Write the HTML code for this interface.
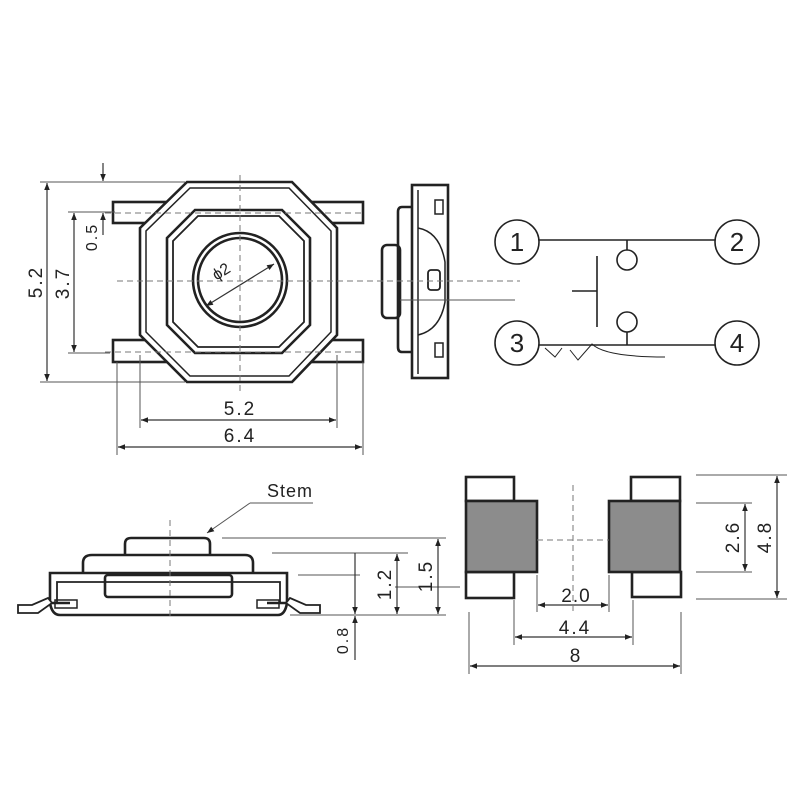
<!DOCTYPE html>
<html><head><meta charset="utf-8"><style>html,body{margin:0;background:#fff}svg{display:block}</style></head>
<body>
<svg width="800" height="800" viewBox="0 0 800 800" xmlns="http://www.w3.org/2000/svg" font-family="Liberation Sans, sans-serif">
<defs>
<marker id="a" viewBox="0 0 10 10" refX="10" refY="5" markerWidth="10" markerHeight="7" orient="auto-start-reverse" markerUnits="userSpaceOnUse"><path d="M0,1 L10,5 L0,9z" fill="#222"/></marker>
</defs>
<g fill="none" stroke="#222" stroke-width="2.6">
<!-- top view -->
<rect x="113" y="202" width="60" height="21"/><rect x="305" y="202" width="58" height="21"/>
<rect x="113" y="340" width="60" height="22"/><rect x="305" y="340" width="58" height="22"/>
<path d="M187,182 H292 L337,228 V335 L292,382 H187 L140,335 V228Z" fill="#fff"/>
<path d="M190,188 H289 L331,231 V332 L289,376 H190 L146,332 V231Z" stroke-width="1.5"/>
<path d="M195,210 H282 L310,238 V325 L282,353 H195 L167,325 V238Z"/>
<path d="M198,216 H279 L304,241 V322 L279,347 H198 L173,322 V241Z" stroke-width="1.8"/>
<circle cx="240" cy="280" r="47"/><circle cx="240" cy="280" r="42"/>
<!-- side view -->
<rect x="382" y="245" width="18" height="73" rx="5"/>
<path d="M412,207 H402 Q398,207 398,212 V347 Q398,352 402,352 H412"/>
<rect x="412" y="185" width="36" height="193"/>
<line x1="418" y1="190" x2="418" y2="374" stroke-width="1.5"/>
<path d="M418,228 Q440,232 445,262 V302 Q440,330 418,335" stroke-width="1.5"/>
<rect x="428" y="270" width="12" height="20" rx="3" stroke-width="1.8"/>
<rect x="435" y="200" width="8" height="14" stroke-width="1.5"/><rect x="435" y="343" width="8" height="14" stroke-width="1.5"/>
<!-- schematic -->
<g stroke-width="1.6">
<circle cx="517" cy="242" r="22"/><circle cx="737" cy="242" r="22"/>
<circle cx="517" cy="343" r="22"/><circle cx="737" cy="343" r="22"/>
<line x1="539" y1="240" x2="715" y2="240"/><line x1="539" y1="345" x2="715" y2="345"/>
<line x1="627" y1="240" x2="627" y2="250"/><circle cx="627" cy="260" r="10"/>
<line x1="627" y1="345" x2="627" y2="332"/><circle cx="627" cy="322" r="10"/>
<line x1="597" y1="256" x2="597" y2="327"/><line x1="572" y1="291" x2="597" y2="291"/>
<path d="M545,348 L555,357 L562,348 M570,350 L578,360 L592,344 Q605,357 665,357" stroke-width="1"/>
</g>
<!-- side elevation -->
<path d="M125,555 V544 Q125,538 131,538 H204 Q210,538 210,544 V555"/>
<path d="M83,573 V563 Q83,555 92,555 H245 Q253,555 253,563 V573"/>
<path d="M50,603 V573 H287 V603"/><path d="M57,603 V582 H280 V603" stroke-width="1.8"/>
<rect x="105" y="575" width="127" height="22" rx="3"/>
<path d="M50,603 L70,603 M50,603 Q52,615 60,615 H278 Q285,615 287,603 M267,603 H287"/>
<path d="M18,605 H32 L48,598 L52,603 L38,613 H18Z" fill="#fff" stroke-width="1.8"/>
<path d="M320,605 H306 L290,598 L286,603 L300,613 H320Z" fill="#fff" stroke-width="1.8"/>
<rect x="55" y="600" width="22" height="8" stroke-width="1.5"/><rect x="257" y="600" width="22" height="8" stroke-width="1.5"/>
<!-- footprint -->
<rect x="466" y="477" width="48" height="24"/><rect x="466" y="572" width="48" height="26"/>
<rect x="631" y="477" width="49" height="24"/><rect x="632" y="572" width="49" height="25"/>
<rect x="466" y="501" width="71" height="71" fill="#8c8c8c"/><rect x="609" y="501" width="71" height="71" fill="#8c8c8c"/>
</g>
<g stroke="#555" stroke-width="1" fill="none">
<line x1="40" y1="182" x2="185" y2="182"/><line x1="40" y1="382" x2="185" y2="382"/>
<line x1="68" y1="212" x2="115" y2="212"/><line x1="68" y1="353" x2="110" y2="353"/>
<line x1="140" y1="355" x2="140" y2="428"/><line x1="337" y1="355" x2="337" y2="428"/>
<line x1="117" y1="362" x2="117" y2="455"/><line x1="363" y1="362" x2="363" y2="455"/>
<line x1="222" y1="538" x2="446" y2="538"/><line x1="272" y1="553" x2="408" y2="553"/>
<line x1="298" y1="575" x2="360" y2="575"/><line x1="290" y1="615" x2="446" y2="615"/>
<line x1="395" y1="587" x2="460" y2="587"/>
<line x1="696" y1="475" x2="787" y2="475"/><line x1="696" y1="503" x2="752" y2="503"/>
<line x1="696" y1="572" x2="752" y2="572"/><line x1="696" y1="599" x2="787" y2="599"/>
<line x1="537" y1="575" x2="537" y2="612"/><line x1="609" y1="575" x2="609" y2="612"/>
<line x1="514" y1="600" x2="514" y2="645"/><line x1="633" y1="600" x2="633" y2="645"/>
<line x1="469" y1="612" x2="469" y2="674"/><line x1="681" y1="612" x2="681" y2="674"/>
<line x1="400" y1="300" x2="515" y2="300"/>
<line x1="313" y1="503" x2="250" y2="503"/><line x1="250" y1="503" x2="207" y2="533" marker-end="url(#a)"/>
</g>
<g stroke="#333" stroke-width="1.2" fill="none" marker-start="url(#a)" marker-end="url(#a)">
<line x1="47" y1="183" x2="47" y2="381"/><line x1="74" y1="213" x2="74" y2="352"/>
<line x1="141" y1="420" x2="336" y2="420"/><line x1="118" y1="447" x2="362" y2="447"/>
<line x1="206" y1="306" x2="274" y2="264"/>
<line x1="438" y1="539" x2="438" y2="614"/><line x1="397" y1="554" x2="397" y2="614"/>
<line x1="538" y1="605" x2="608" y2="605"/><line x1="515" y1="637" x2="632" y2="637"/>
<line x1="470" y1="666" x2="680" y2="666"/>
<line x1="745" y1="504" x2="745" y2="571"/><line x1="777" y1="476" x2="777" y2="598"/>
</g>
<g stroke="#333" stroke-width="1.2" fill="none">
<line x1="103" y1="163" x2="103" y2="181" marker-end="url(#a)"/><line x1="103" y1="235" x2="103" y2="213" marker-end="url(#a)"/>
<line x1="355" y1="553" x2="355" y2="614" marker-end="url(#a)"/><line x1="355" y1="660" x2="355" y2="616" marker-end="url(#a)"/>
</g>
<g stroke="#777" stroke-width="1" stroke-dasharray="6,4" fill="none">
<line x1="240" y1="175" x2="240" y2="392"/><line x1="117" y1="281" x2="520" y2="281"/>
<line x1="105" y1="213" x2="365" y2="213"/><line x1="105" y1="352" x2="365" y2="352"/>
<line x1="170" y1="520" x2="170" y2="620"/>
<line x1="573" y1="485" x2="573" y2="615"/><line x1="537" y1="540" x2="609" y2="540"/>
</g>
<g fill="#222" font-size="19">
<text x="517" y="251" text-anchor="middle" font-size="26">1</text>
<text x="737" y="251" text-anchor="middle" font-size="26">2</text>
<text x="517" y="352" text-anchor="middle" font-size="26">3</text>
<text x="737" y="352" text-anchor="middle" font-size="26">4</text>
<text x="240" y="415" text-anchor="middle" letter-spacing="2">5.2</text>
<text x="240" y="442" text-anchor="middle" letter-spacing="2">6.4</text>
<text transform="translate(42,282) rotate(-90)" text-anchor="middle" letter-spacing="2">5.2</text>
<text transform="translate(69,283) rotate(-90)" text-anchor="middle" letter-spacing="2">3.7</text>
<text transform="translate(97,237) rotate(-90)" text-anchor="middle" letter-spacing="2" font-size="16">0.5</text>
<text transform="translate(224,276) rotate(-32)" text-anchor="middle" font-size="16">ϕ2</text>
<text x="290" y="497" text-anchor="middle" letter-spacing="1" font-size="18">Stem</text>
<text transform="translate(391,584) rotate(-90)" text-anchor="middle" letter-spacing="2">1.2</text>
<text transform="translate(432,576) rotate(-90)" text-anchor="middle" letter-spacing="2">1.5</text>
<text transform="translate(348,640) rotate(-90)" text-anchor="middle" letter-spacing="2" font-size="16">0.8</text>
<text x="576" y="602" text-anchor="middle" letter-spacing="1">2.0</text>
<text x="575" y="634" text-anchor="middle" letter-spacing="2">4.4</text>
<text x="575" y="662" text-anchor="middle">8</text>
<text transform="translate(739,537) rotate(-90)" text-anchor="middle" letter-spacing="2">2.6</text>
<text transform="translate(771,537) rotate(-90)" text-anchor="middle" letter-spacing="2">4.8</text>
</g>
</svg>
</body></html>
